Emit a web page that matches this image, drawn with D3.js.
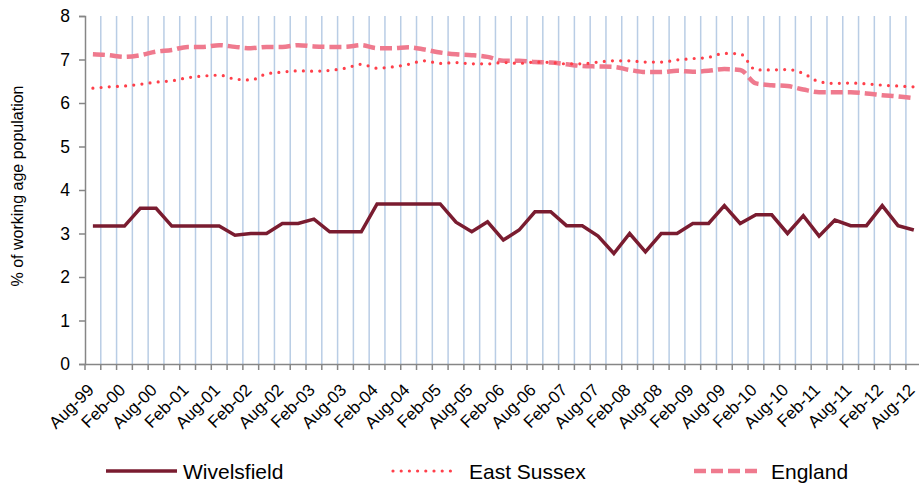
<!DOCTYPE html>
<html><head><meta charset="utf-8">
<script src="https://cdn.jsdelivr.net/npm/d3@7"></script>
<style>body{margin:0;background:#fff;}svg{display:block;font-family:"Liberation Sans",Arial,sans-serif;}</style>
</head><body><svg id="c" width="919" height="486"></svg>
<script>
const categories = ["Aug-99","Nov-99","Feb-00","May-00","Aug-00","Nov-00","Feb-01","May-01","Aug-01","Nov-01","Feb-02","May-02","Aug-02","Nov-02","Feb-03","May-03","Aug-03","Nov-03","Feb-04","May-04","Aug-04","Nov-04","Feb-05","May-05","Aug-05","Nov-05","Feb-06","May-06","Aug-06","Nov-06","Feb-07","May-07","Aug-07","Nov-07","Feb-08","May-08","Aug-08","Nov-08","Feb-09","May-09","Aug-09","Nov-09","Feb-10","May-10","Aug-10","Nov-10","Feb-11","May-11","Aug-11","Nov-11","Feb-12","May-12","Aug-12"];
const tickLabels = ["Aug-99","Feb-00","Aug-00","Feb-01","Aug-01","Feb-02","Aug-02","Feb-03","Aug-03","Feb-04","Aug-04","Feb-05","Aug-05","Feb-06","Aug-06","Feb-07","Aug-07","Feb-08","Aug-08","Feb-09","Aug-09","Feb-10","Aug-10","Feb-11","Aug-11","Feb-12","Aug-12"];
const wivelsfield = [3.17,3.17,3.17,3.58,3.58,3.17,3.17,3.17,3.17,2.96,3.0,3.0,3.23,3.23,3.33,3.04,3.04,3.04,3.68,3.68,3.68,3.68,3.68,3.26,3.04,3.27,2.85,3.08,3.5,3.5,3.18,3.18,2.94,2.54,3.0,2.58,3.0,3.0,3.23,3.23,3.64,3.23,3.43,3.43,3.0,3.41,2.94,3.31,3.18,3.18,3.64,3.18,3.08];
const eastSussex = [6.34,6.37,6.39,6.43,6.48,6.51,6.58,6.62,6.64,6.55,6.53,6.67,6.71,6.74,6.73,6.75,6.8,6.89,6.8,6.83,6.89,6.97,6.91,6.93,6.9,6.9,6.93,6.91,6.94,6.93,6.9,6.9,6.94,6.97,6.97,6.94,6.94,6.99,7.02,7.05,7.14,7.13,6.76,6.76,6.77,6.68,6.49,6.45,6.46,6.44,6.41,6.39,6.37];
const england = [7.12,7.1,7.06,7.1,7.18,7.22,7.29,7.29,7.33,7.29,7.26,7.29,7.29,7.33,7.3,7.29,7.29,7.33,7.26,7.26,7.28,7.23,7.16,7.12,7.1,7.06,6.97,6.97,6.94,6.93,6.89,6.85,6.84,6.83,6.76,6.71,6.71,6.74,6.72,6.74,6.78,6.76,6.45,6.41,6.39,6.31,6.25,6.25,6.25,6.22,6.18,6.15,6.11];
const yTicks = [0,1,2,3,4,5,6,7,8];
const seriesNames = ["Wivelsfield","East Sussex","England"];

const svg = d3.select("#c");
const x = d3.scaleBand().domain(categories).range([85, 921.7]);
const y = d3.scaleLinear().domain([0, 8]).range([364, 16]);
const cx = d => x(d) + x.bandwidth() / 2;

// vertical gridlines at category boundaries
svg.append("g").selectAll("line").data(categories.slice(1)).join("line")
  .attr("x1", d => x(d)).attr("x2", d => x(d)).attr("y1", y(8)).attr("y2", y(0))
  .attr("stroke", "#b9cde5").attr("stroke-width", 1.5);

// y axis
const ya = svg.append("g").attr("transform", "translate(85,0)")
  .call(d3.axisLeft(y).tickValues(yTicks).tickSize(6).tickPadding(9).tickFormat(d3.format("d")));
ya.select(".domain").attr("stroke", "#868686").attr("stroke-width", 1.5);
ya.selectAll(".tick line").attr("stroke", "#868686").attr("stroke-width", 1.5);
ya.selectAll("text").attr("font-size", 17.5).attr("fill", "#000").attr("font-family", "Liberation Sans, Arial");

// x axis
const xa = svg.append("g").attr("transform", "translate(0,364)")
  .call(d3.axisBottom(x).tickValues([]).tickSizeOuter(0));
xa.select(".domain").attr("stroke", "#868686").attr("stroke-width", 1.5);
svg.append("g").selectAll("line").data(categories).join("line")
  .attr("x1", d => x(d)).attr("x2", d => x(d)).attr("y1", 364).attr("y2", 370)
  .attr("stroke", "#868686").attr("stroke-width", 1.5);
svg.append("g").selectAll("text").data(tickLabels).join("text")
  .attr("transform", d => `translate(${cx(d) + 2},${391}) rotate(-45)`)
  .attr("text-anchor", "end").attr("font-size", 17).attr("fill", "#000")
  .text(d => d);

// y title
svg.append("text").attr("transform", "translate(23,186) rotate(-90)")
  .attr("text-anchor", "middle").attr("font-size", 16).attr("fill", "#000")
  .text("% of working age population");

const line = d3.line().x((d, i) => cx(categories[i])).y(d => y(d));
const smooth = d3.line().x((d, i) => cx(categories[i])).y(d => y(d)).curve(d3.curveMonotoneX);

svg.append("path").datum(england).attr("d", smooth).attr("fill", "none")
  .attr("stroke", "#ef7a8e").attr("stroke-width", 4.5).attr("stroke-dasharray", "12,5");
svg.append("path").datum(eastSussex).attr("d", smooth).attr("fill", "none")
  .attr("stroke", "#ff3f4a").attr("stroke-width", 3.2).attr("stroke-linecap", "round").attr("stroke-dasharray", "0,8.2");
svg.append("path").datum(wivelsfield).attr("d", line).attr("fill", "none")
  .attr("stroke", "#7a1c30").attr("stroke-width", 3.5).attr("stroke-linejoin", "miter");

// legend
const lg = svg.append("g");
const leg = [
  {name: seriesNames[0], x1: 106, x2: 177, tx: 183, stroke: "#7a1c30", w: 3.5, dash: null, cap: "butt"},
  {name: seriesNames[1], x1: 393, x2: 453, tx: 469, stroke: "#ff3f4a", w: 3.2, dash: "0,8.2", cap: "round"},
  {name: seriesNames[2], x1: 694, x2: 762, tx: 771, stroke: "#ef7a8e", w: 4.5, dash: "12,5", cap: "butt"}
];
leg.forEach(l => {
  lg.append("line").attr("x1", l.x1).attr("x2", l.x2).attr("y1", 471).attr("y2", 471)
    .attr("stroke", l.stroke).attr("stroke-width", l.w).attr("stroke-dasharray", l.dash).attr("stroke-linecap", l.cap);
  lg.append("text").attr("x", l.tx).attr("y", 478.5).attr("font-size", 21).attr("fill", "#000").text(l.name);
});
</script></body></html>
